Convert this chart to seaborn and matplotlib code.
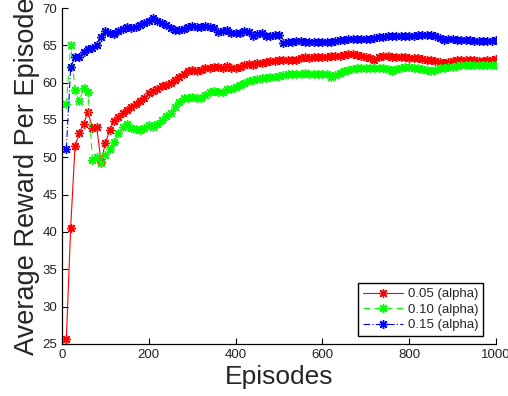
import numpy as np
import pandas as pd
import matplotlib
matplotlib.use("Agg")
import matplotlib.pyplot as plt
import seaborn as sns

episodes = list(range(10, 1001, 10))

alpha_005 = [25.7, 40.6, 51.5, 53.3, 54.5, 56.1, 53.9, 54.0, 49.4, 51.9,
             53.7, 54.8, 55.4, 56.0, 56.4, 56.8, 57.2, 57.5, 57.9, 58.6,
             58.9, 59.2, 59.5, 59.7, 59.9, 60.3, 60.8, 61.2, 61.5, 61.7,
             61.6, 61.7, 61.9, 61.9, 62.1, 62.1, 62.0, 62.2, 62.0, 61.9,
             62.1, 62.3, 62.5, 62.4, 62.6, 62.7, 62.8, 62.9, 62.9, 63.1,
             63.1, 63.0, 63.0, 63.1, 63.3, 63.4, 63.3, 63.4, 63.4, 63.5,
             63.5, 63.6, 63.6, 63.6, 63.7, 63.8, 63.8, 63.7, 63.6, 63.5,
             63.3, 63.1, 63.4, 63.6, 63.6, 63.5, 63.4, 63.4, 63.4, 63.3,
             63.3, 63.3, 63.2, 63.1, 63.0, 62.9, 62.8, 62.7, 62.8, 62.9,
             63.0, 63.1, 63.1, 63.0, 63.0, 62.9, 62.9, 63.0, 63.1, 63.2]

alpha_010 = [57.1, 65.1, 59.0, 57.5, 59.3, 58.7, 49.7, 50.0, 49.3, 50.3,
             51.1, 52.1, 53.2, 54.1, 54.4, 53.9, 53.8, 53.6, 53.9, 54.3,
             54.1, 54.5, 55.0, 55.6, 56.0, 56.8, 57.4, 57.9, 58.0, 58.1,
             57.9, 58.0, 58.4, 58.8, 58.9, 58.7, 58.8, 59.1, 59.2, 59.4,
             59.7, 59.9, 60.2, 60.4, 60.5, 60.6, 60.6, 60.7, 60.8, 60.9,
             61.0, 61.1, 61.2, 61.1, 61.2, 61.3, 61.2, 61.2, 61.1, 61.2,
             61.1, 60.8, 61.0, 61.25, 61.5, 61.7, 61.8, 61.9, 61.9, 61.9,
             61.9, 62.0, 61.9, 61.9, 61.8, 61.5, 61.8, 61.9, 62.1, 62.1,
             62.0, 61.9, 61.8, 61.7, 61.5, 61.7, 61.9, 62.0, 62.1, 62.1,
             62.2, 62.3, 62.3, 62.4, 62.4, 62.4, 62.4, 62.3, 62.4, 62.4]

alpha_015 = [51.1, 62.1, 63.4, 63.5, 64.1, 64.5, 64.7, 65.0, 66.1, 66.9,
             66.6, 66.5, 66.9, 67.2, 67.4, 67.3, 67.4, 67.7, 68.0, 68.3,
             68.6, 68.3, 68.0, 67.7, 67.3, 67.0, 67.0, 67.2, 67.4, 67.6,
             67.5, 67.5, 67.6, 67.5, 67.3, 66.8, 66.9, 67.0, 66.7, 66.6,
             66.6, 66.9, 66.8, 66.3, 66.5, 66.6, 66.2, 66.3, 66.4, 66.4,
             65.3, 65.4, 65.5, 65.6, 65.6, 65.5, 65.4, 65.4, 65.5, 65.5,
             65.5, 65.5, 65.6, 65.7, 65.7, 65.8, 65.8, 65.8, 65.9, 65.9,
             65.9, 66.0, 66.1, 66.1, 66.2, 66.2, 66.2, 66.2, 66.2, 66.3,
             66.3, 66.4, 66.4, 66.4, 66.4, 66.3, 66.0, 65.7, 65.8, 65.8,
             65.7, 65.7, 65.7, 65.7, 65.6, 65.6, 65.6, 65.6, 65.6, 65.7]

labels = ["0.05 (alpha)", "0.10 (alpha)", "0.15 (alpha)"]
x_ticks = [0, 200, 400, 600, 800, 1000]
y_ticks = [25, 30, 35, 40, 45, 50, 55, 60, 65, 70]

sns.set_style("ticks")
plt.rcParams["font.family"] = ["Liberation Sans", "DejaVu Sans"]

fig = plt.figure(figsize=(5.08, 3.96), dpi=100)
ax = fig.add_axes([62 / 508, 1 - 344 / 396, 434 / 508, 336 / 396])

series = [alpha_005, alpha_010, alpha_015]
colors = ["#ff0000", "#00ff00", "#0000ff"]
styles = ["-", (0, (6, 4)), (0, (6, 2, 1, 2))]
asterisk = (8, 2, 0)

for vals, lab, col, ls in zip(series, labels, colors, styles):
    df = pd.DataFrame({"Episodes": episodes, "Reward": vals})
    sns.lineplot(data=df, x="Episodes", y="Reward", ax=ax, color=col,
                 linestyle=ls, linewidth=0.8, marker=asterisk, markersize=6.5,
                 markeredgewidth=1.0, markeredgecolor=col, label=lab,
                 errorbar=None)

ax.set_xlim(0, 1000)
ax.set_ylim(25, 70)
ax.set_xticks(x_ticks)
ax.set_yticks(y_ticks)
ax.tick_params(direction="in", length=4, width=0.8, labelsize=9.5,
               colors="black", labelcolor="#222222")
for s in ["top", "right"]:
    ax.spines[s].set_visible(False)
for s in ["left", "bottom"]:
    ax.spines[s].set_linewidth(0.9)
    ax.spines[s].set_color("black")

ax.set_xlabel("Episodes", fontsize=19, labelpad=3)
ax.set_ylabel("Average Reward Per Episode", fontsize=19.5, labelpad=2)

leg = ax.legend(loc="lower right", bbox_to_anchor=(0.970, 0.024),
                borderaxespad=0, fontsize=9.5, frameon=True, fancybox=False,
                edgecolor="black", framealpha=1, handlelength=3.0,
                labelspacing=0.25, borderpad=0.35, handletextpad=0.4)
leg.get_frame().set_linewidth(1.0)

fig.savefig("out.png", dpi=100)
